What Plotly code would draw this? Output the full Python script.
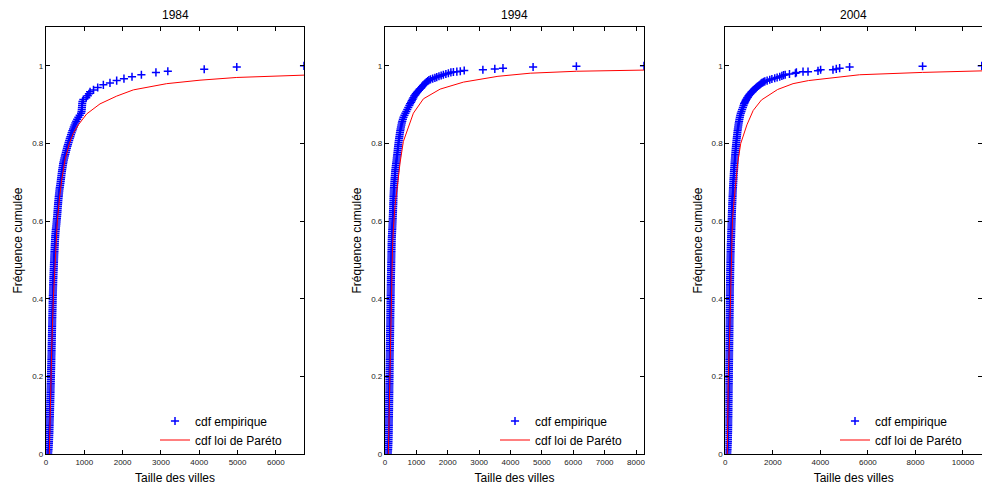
import plotly.graph_objects as go

# ---------------- data ----------------
years = ["1984", "1994", "2004"]

# cumulative-frequency levels of the dense part of each empirical CDF
cdf_dense = [
    0.0025, 0.0075, 0.0125, 0.0175, 0.0225, 0.0275, 0.0325, 0.0375, 0.0425, 0.0475,
    0.0525, 0.0575, 0.0625, 0.0675, 0.0725, 0.0775, 0.0825, 0.0875, 0.0925, 0.0975,
    0.1025, 0.1075, 0.1125, 0.1175, 0.1225, 0.1275, 0.1325, 0.1375, 0.1425, 0.1475,
    0.1525, 0.1575, 0.1625, 0.1675, 0.1725, 0.1775, 0.1825, 0.1875, 0.1925, 0.1975,
    0.2025, 0.2075, 0.2125, 0.2175, 0.2225, 0.2275, 0.2325, 0.2375, 0.2425, 0.2475,
    0.2525, 0.2575, 0.2625, 0.2675, 0.2725, 0.2775, 0.2825, 0.2875, 0.2925, 0.2975,
    0.3025, 0.3075, 0.3125, 0.3175, 0.3225, 0.3275, 0.3325, 0.3375, 0.3425, 0.3475,
    0.3525, 0.3575, 0.3625, 0.3675, 0.3725, 0.3775, 0.3825, 0.3875, 0.3925, 0.3975,
    0.4025, 0.4075, 0.4125, 0.4175, 0.4225, 0.4275, 0.4325, 0.4375, 0.4425, 0.4475,
    0.4525, 0.4575, 0.4625, 0.4675, 0.4725, 0.4775, 0.4825, 0.4875, 0.4925, 0.4975,
    0.5025, 0.5075, 0.5125, 0.5175, 0.5225, 0.5275, 0.5325, 0.5375, 0.5425, 0.5475,
    0.5525, 0.5575, 0.5625, 0.5675, 0.5725, 0.5775, 0.5825, 0.5875, 0.5925, 0.5975,
    0.6025, 0.6075, 0.6125, 0.6175, 0.6225, 0.6275, 0.6325, 0.6375, 0.6425, 0.6475,
    0.6525, 0.6575, 0.6625, 0.6675, 0.6725, 0.6775, 0.6825, 0.6875, 0.6925, 0.6975,
    0.7025, 0.7075, 0.7125, 0.7175, 0.7225, 0.7275, 0.7325, 0.7375, 0.7425, 0.7475,
    0.7525, 0.7575, 0.7625, 0.7675, 0.7725, 0.7775, 0.7825, 0.7875, 0.7925, 0.7975,
    0.8025, 0.8075, 0.8125, 0.8175, 0.8225, 0.8275, 0.8325, 0.8375, 0.8425, 0.8475,
    0.8525, 0.8575, 0.8625, 0.8675, 0.8725, 0.8775, 0.8825, 0.8875, 0.8925, 0.8975]

# ---- 1984 city sizes at the dense levels, then the upper tail
size_1984_dense = [
    58, 63, 67, 70, 73, 76, 78, 80, 83, 85,
    87, 89, 90, 92, 94, 95, 97, 99, 100, 102,
    103, 104, 106, 107, 108, 110, 111, 112, 114, 115,
    116, 118, 119, 120, 122, 123, 124, 126, 127, 128,
    130, 131, 132, 134, 135, 136, 138, 139, 140, 141,
    142, 144, 145, 146, 147, 148, 150, 151, 152, 153,
    154, 155, 156, 157, 158, 159, 160, 161, 162, 163,
    165, 166, 167, 168, 170, 171, 172, 173, 174, 175,
    177, 178, 180, 181, 183, 184, 186, 187, 189, 190,
    192, 194, 196, 198, 200, 202, 204, 206, 208, 210,
    212, 214, 216, 219, 221, 224, 226, 229, 231, 234,
    236, 239, 242, 246, 250, 255, 260, 266, 272, 277,
    281, 286, 291, 295, 299, 302, 306, 310, 314, 318,
    322, 327, 332, 337, 342, 348, 354, 361, 369, 377,
    384, 390, 396, 402, 409, 416, 423, 431, 439, 447,
    456, 468, 480, 493, 506, 519, 532, 546, 560, 574,
    590, 605, 621, 637, 653, 670, 688, 706, 725, 745,
    767, 790, 815, 845, 880, 915, 928, 934, 938, 942]
cdf_1984_tail = [0.903, 0.908, 0.913, 0.918, 0.923, 0.928, 0.933, 0.938, 0.944, 0.951,
                 0.956, 0.962, 0.967, 0.972, 0.977, 0.983, 0.986, 0.991, 0.997, 1.0]
size_1984_tail = [946, 952, 975, 1050, 1090, 1120, 1150, 1240, 1350, 1497,
                  1670, 1845, 2035, 2245, 2490, 2870, 3180, 4130, 4980, 6735]
pareto_1984_x = [87, 104, 131, 148, 191, 253, 296, 348, 410, 496, 610, 714, 845,
                 1062, 1410, 1845, 2280, 3150, 4020, 4980, 6735]
pareto_1984_y = [0, 0.096, 0.2, 0.268, 0.4, 0.526, 0.6, 0.655, 0.706, 0.758, 0.80,
                 0.826, 0.848, 0.876, 0.902, 0.922, 0.938, 0.954, 0.963, 0.970, 0.976]

# ---- 1994
size_1994_dense = [
    92, 97, 101, 104, 107, 109, 111, 113, 115, 116,
    118, 119, 120, 121, 122, 123, 124, 125, 126, 127,
    127, 128, 129, 130, 131, 132, 133, 133, 134, 135,
    136, 137, 138, 138, 139, 140, 141, 142, 142, 143,
    144, 145, 146, 146, 147, 148, 149, 150, 150, 151,
    152, 153, 154, 155, 155, 156, 157, 158, 159, 160,
    160, 161, 162, 163, 164, 165, 165, 166, 167, 168,
    169, 170, 171, 172, 173, 174, 175, 176, 177, 178,
    179, 180, 181, 182, 183, 184, 185, 186, 187, 188,
    189, 190, 191, 193, 194, 195, 196, 198, 199, 200,
    201, 203, 204, 205, 207, 208, 209, 211, 212, 214,
    215, 218, 221, 224, 227, 230, 233, 236, 239, 242,
    244, 247, 249, 252, 254, 256, 258, 261, 263, 265,
    267, 269, 271, 273, 276, 279, 283, 287, 291, 296,
    300, 305, 309, 314, 319, 324, 330, 337, 344, 352,
    360, 368, 375, 382, 390, 397, 404, 410, 418, 425,
    432, 440, 449, 458, 467, 476, 486, 497, 509, 522,
    536, 550, 570, 590, 620, 650, 680, 710, 742, 775]
cdf_1994_tail = [0.902, 0.906, 0.91, 0.914, 0.918, 0.922, 0.925, 0.928, 0.931, 0.934,
                 0.937, 0.94, 0.943, 0.946, 0.949, 0.952, 0.955, 0.958, 0.961, 0.963,
                 0.965, 0.967, 0.969, 0.971, 0.973, 0.975, 0.977, 0.979, 0.981, 0.983,
                 0.984, 0.985, 0.986, 0.988, 0.990, 0.992, 0.994, 0.997, 0.999, 1.0]
size_1994_tail = [800, 830, 855, 880, 905, 930, 960, 985, 1015, 1045,
                  1080, 1110, 1150, 1180, 1210, 1250, 1280, 1320, 1360, 1400,
                  1450, 1520, 1590, 1650, 1720, 1790, 1860, 1940, 2020, 2100,
                  2180, 2290, 2400, 2525, 3120, 3500, 3760, 4720, 6100, 8255]
pareto_1994_x = [106, 130, 150, 170, 195, 240, 266, 320, 394, 480, 585, 745, 905,
                 1225, 1757, 2500, 3600, 4630, 6100, 8255]
pareto_1994_y = [0, 0.1, 0.2, 0.3, 0.4, 0.534, 0.58, 0.64, 0.69, 0.75, 0.805, 0.844,
                 0.878, 0.915, 0.94, 0.958, 0.973, 0.981, 0.986, 0.989]

# ---- 2004
size_2004_dense = [
    84, 90, 95, 99, 102, 105, 108, 110, 112, 114,
    116, 118, 119, 121, 122, 124, 125, 126, 128, 129,
    130, 131, 132, 133, 134, 135, 136, 137, 138, 139,
    140, 141, 142, 143, 144, 145, 146, 147, 148, 149,
    150, 151, 152, 153, 154, 155, 156, 157, 158, 159,
    160, 161, 162, 163, 164, 165, 166, 167, 168, 169,
    170, 171, 172, 173, 174, 175, 176, 177, 178, 179,
    180, 181, 182, 183, 184, 185, 186, 187, 188, 189,
    190, 191, 192, 193, 194, 195, 196, 198, 199, 200,
    201, 203, 204, 205, 207, 208, 210, 211, 213, 214,
    216, 218, 220, 222, 224, 226, 229, 231, 234, 237,
    240, 243, 246, 248, 251, 254, 256, 259, 262, 265,
    268, 271, 273, 276, 279, 282, 285, 288, 291, 295,
    298, 302, 305, 309, 313, 317, 321, 325, 330, 334,
    339, 343, 348, 353, 358, 363, 369, 375, 381, 387,
    393, 399, 405, 411, 418, 425, 432, 439, 447, 455,
    463, 471, 480, 489, 498, 507, 517, 528, 540, 552,
    565, 580, 595, 612, 630, 652, 680, 708, 740, 768]
cdf_2004_tail = [0.902, 0.905, 0.908, 0.911, 0.914, 0.917, 0.919, 0.922, 0.924, 0.927,
                 0.929, 0.932, 0.934, 0.936, 0.938, 0.940, 0.942, 0.944, 0.946, 0.948,
                 0.95, 0.952, 0.954, 0.956, 0.957, 0.959, 0.96, 0.962, 0.964, 0.966,
                 0.968, 0.97, 0.972, 0.974, 0.976, 0.977, 0.979, 0.981, 0.983, 0.985,
                 0.985, 0.987, 0.99, 0.99, 0.992, 0.994, 0.997, 0.999, 1.0]
size_2004_tail = [790, 815, 840, 865, 890, 918, 945, 972, 1000, 1030,
                  1060, 1095, 1130, 1165, 1200, 1235, 1270, 1305, 1340, 1380,
                  1420, 1460, 1500, 1540, 1580, 1620, 1665, 1760, 1870, 1960,
                  2080, 2180, 2290, 2380, 2450, 2520, 2700, 2950, 2990, 3270,
                  3480, 3900, 4010, 4530, 4670, 4810, 5230, 8300, 10790]
pareto_2004_x = [84, 126, 180, 226, 260, 300, 350, 420, 520, 650, 800, 910, 1174,
                 1520, 2200, 2850, 3500, 4600, 5650, 8300, 10800]
pareto_2004_y = [0, 0.2, 0.3, 0.4, 0.53, 0.6, 0.64, 0.69, 0.75, 0.80, 0.83, 0.848,
                 0.885, 0.912, 0.939, 0.954, 0.962, 0.970, 0.977, 0.983, 0.987]

x_max = [6735, 8255, 10800]
x_dtick = [1000, 1000, 2000]
y_ticks = [0, 0.2, 0.4, 0.6, 0.8, 1]
y_ticktext = ["0", "0.2", "0.4", "0.6", "0.8", "1"]

emp_x = [size_1984_dense + size_1984_tail,
         size_1994_dense + size_1994_tail,
         size_2004_dense + size_2004_tail]
emp_y = [cdf_dense + cdf_1984_tail, cdf_dense + cdf_1994_tail, cdf_dense + cdf_2004_tail]
par_x = [pareto_1984_x, pareto_1994_x, pareto_2004_x]
par_y = [pareto_1984_y, pareto_1994_y, pareto_2004_y]

# ---------------- layout geometry ----------------
W, H = 982, 486
ML, MR, MT, MB = 0, 0, 27, 32
domains_px = [(46, 304), (385, 644), (725.3, 982)]
legend_left_px = [155, 495, 835]
FONT = "Liberation Sans, Arial, Helvetica, sans-serif"

fig = go.Figure()
legend_names = ["legend", "legend2", "legend3"]
for i in range(3):
    sfx = "" if i == 0 else str(i + 1)
    fig.add_trace(go.Scatter(
        x=emp_x[i], y=emp_y[i], mode="markers", name="cdf empirique",
        marker=dict(symbol="cross-thin", size=5.8, color="#0000ff",
                    line=dict(color="#0000ff", width=1.5)),
        xaxis="x" + sfx, yaxis="y" + sfx, legend=legend_names[i]))
    fig.add_trace(go.Scatter(
        x=par_x[i], y=par_y[i], mode="lines", name="cdf loi de Paréto",
        line=dict(color="#ff0000", width=1),
        xaxis="x" + sfx, yaxis="y" + sfx, legend=legend_names[i]))

layout = dict(
    width=W, height=H,
    margin=dict(l=ML, r=MR, t=MT, b=MB),
    paper_bgcolor="white", plot_bgcolor="white",
    font=dict(family=FONT, size=12, color="black"),
    showlegend=True,
    annotations=[],
)
plot_h = H - MT - MB
for i in range(3):
    sfx = "" if i == 0 else str(i + 1)
    d0, d1 = domains_px[i]
    layout["xaxis" + sfx] = dict(
        domain=[d0 / W, min(d1 / W, 1.0)], anchor="y" + sfx,
        range=[0, x_max[i]], dtick=x_dtick[i], tick0=0, tickformat="d",
        showline=True, linecolor="black", linewidth=1.2, mirror="ticks",
        ticks="inside", ticklen=4, tickcolor="black", tickwidth=1,
        showgrid=False, zeroline=False,
        tickfont=dict(size=8, color="#222222", family=FONT),
        title=dict(text="Taille des villes", font=dict(size=12, family=FONT), standoff=7),
        automargin=False,
    )
    layout["yaxis" + sfx] = dict(
        domain=[0, 1], anchor="x" + sfx,
        range=[0, 1.1], tickvals=y_ticks, ticktext=y_ticktext,
        showline=True, linecolor="black", linewidth=1.2, mirror="ticks",
        ticks="inside", ticklen=4, tickcolor="black", tickwidth=1,
        showgrid=False, zeroline=False,
        tickfont=dict(size=8, color="#222222", family=FONT),
        title=dict(text="Fréquence cumulée", font=dict(size=12, family=FONT), standoff=6),
        automargin=False,
    )
    layout["annotations"].append(dict(
        text=years[i], xref="paper", yref="paper",
        x=((d0 + min(d1, W)) / 2 - ML) / (W - ML - MR), y=1,
        xanchor="center", yanchor="bottom", yshift=3, showarrow=False,
        font=dict(size=12, family=FONT)))
    layout[legend_names[i]] = dict(
        x=(legend_left_px[i] - ML) / (W - ML - MR), xanchor="left",
        y=(454 - 406.5) / plot_h, yanchor="top",
        bgcolor="rgba(0,0,0,0)", borderwidth=0,
        font=dict(size=12, family=FONT), tracegroupgap=0,
    )

fig.update_layout(**layout)
fig.write_html("out.html", config={"displayModeBar": False},
               post_script="document.body.style.margin='0px';document.body.style.overflow='hidden';")
